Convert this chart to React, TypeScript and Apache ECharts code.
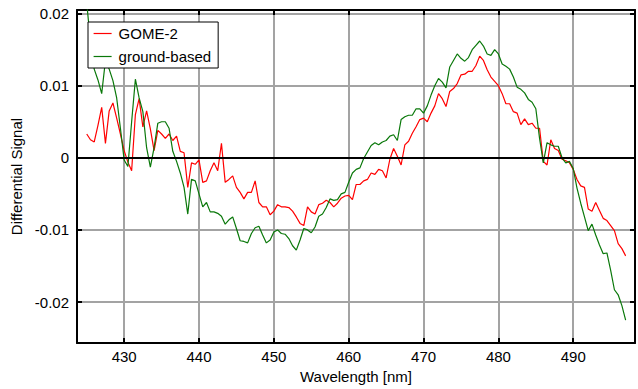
import React, { useEffect, useRef } from "react";
import * as echarts from "echarts";

const wavelengths = [425,425.5,426,426.5,427,427.5,428,428.5,429,429.5,430,430.5,431,431.5,432,432.5,433,433.5,434,434.5,435,435.5,436,436.5,437,437.5,438,438.5,439,439.5,440,440.5,441,441.5,442,442.5,443,443.5,444,444.5,445,445.5,446,446.5,447,447.5,448,448.5,449,449.5,450,450.5,451,451.5,452,452.5,453,453.5,454,454.5,455,455.5,456,456.5,457,457.5,458,458.5,459,459.5,460,460.5,461,461.5,462,462.5,463,463.5,464,464.5,465,465.5,466,466.5,467,467.5,468,468.5,469,469.5,470,470.5,471,471.5,472,472.5,473,473.5,474,474.5,475,475.5,476,476.5,477,477.5,478,478.5,479,479.5,480,480.5,481,481.5,482,482.5,483,483.5,484,484.5,485,485.5,486,486.5,487,487.5,488,488.5,489,489.5,490,490.5,491,491.5,492,492.5,493,493.5,494,494.5,495,495.5,496,496.5,497];

const gome2 = [
  0.0033,0.0025,0.0022,0.0045,0.0070,0.0020,0.0065,0.0076,0.0055,0.0033,
  0.0010,-0.0006,-0.0018,0.0060,0.0082,0.0043,0.0065,0.0040,0.0010,0.0038,
  0.0033,0.0027,0.0033,0.0024,0.0030,0.0009,0.0007,-0.0041,-0.0007,-0.0009,
  -0.0003,-0.0034,-0.0032,-0.0018,-0.0007,-0.0018,0.0020,-0.0034,-0.0030,-0.0025,
  -0.0041,-0.0048,-0.0057,-0.0048,-0.0048,-0.0032,-0.0062,-0.0068,-0.0068,-0.0079,
  -0.0074,-0.0065,-0.0068,-0.0068,-0.0069,-0.0074,-0.0082,-0.0091,-0.0094,-0.0068,
  -0.0075,-0.0078,-0.0065,-0.0063,-0.0059,-0.0062,-0.0068,-0.0063,-0.0056,-0.0053,
  -0.0052,-0.0058,-0.0037,-0.0037,-0.0032,-0.0030,-0.0021,-0.0023,-0.0016,-0.0018,
  -0.0028,-0.0002,0.0013,0.0002,-0.0010,0.0018,0.0023,0.0034,0.0043,0.0053,
  0.0055,0.0050,0.0062,0.0072,0.0089,0.0082,0.0071,0.0092,0.0096,0.0103,
  0.0115,0.0116,0.0120,0.0120,0.0128,0.0141,0.0135,0.0122,0.0112,0.0106,
  0.0100,0.0089,0.0075,0.0075,0.0064,0.0062,0.0046,0.0054,0.0046,0.0048,
  0.0041,0.0041,-0.0005,-0.0010,0.0025,0.0013,0.0010,-0.0002,-0.0004,-0.0007,
  -0.0016,-0.0030,-0.0039,-0.0041,-0.0071,-0.0074,-0.0062,-0.0073,-0.0084,-0.0087,
  -0.0094,-0.0101,-0.0119,-0.0126,-0.0136
];

const groundBased = [
  0.0215,0.0160,0.0123,0.0108,0.0089,0.0135,0.0123,0.0107,0.0083,0.0041,
  -0.0003,-0.0012,0.0050,0.0109,0.0083,0.0064,0.0014,-0.0013,0.0014,0.0048,
  0.0050,0.0050,0.0041,0.0009,-0.0005,-0.0021,-0.0041,-0.0078,-0.0030,-0.0032,
  -0.0050,-0.0068,-0.0062,-0.0075,-0.0075,-0.0077,-0.0081,-0.0092,-0.0086,-0.0082,
  -0.0098,-0.0115,-0.0116,-0.0118,-0.0105,-0.0097,-0.0095,-0.0107,-0.0118,-0.0114,
  -0.0103,-0.0100,-0.0105,-0.0106,-0.0112,-0.0122,-0.0128,-0.0114,-0.0098,-0.0100,
  -0.0104,-0.0096,-0.0081,-0.0078,-0.0069,-0.0057,-0.0059,-0.0058,-0.0050,-0.0048,
  -0.0034,-0.0021,-0.0016,-0.0014,-0.0001,0.0008,0.0017,0.0021,0.0018,0.0022,
  0.0024,0.0030,0.0032,0.0024,0.0053,0.0057,0.0059,0.0059,0.0068,0.0068,
  0.0062,0.0072,0.0087,0.0100,0.0110,0.0105,0.0097,0.0126,0.0135,0.0144,
  0.0138,0.0134,0.0139,0.0150,0.0156,0.0162,0.0155,0.0144,0.0142,0.0150,
  0.0144,0.0130,0.0127,0.0123,0.0112,0.0098,0.0095,0.0090,0.0081,0.0077,
  0.0068,0.0027,-0.0007,0.0021,0.0018,0.0016,0.0016,0.0000,-0.0007,-0.0005,
  -0.0015,-0.0042,-0.0063,-0.0082,-0.0101,-0.0092,-0.0107,-0.0121,-0.0133,-0.0132,
  -0.0156,-0.0183,-0.0190,-0.0205,-0.0225
];

const X_MIN = 423.7;
const X_MAX = 498.25;
const Y_MIN = -0.0257;
const Y_MAX = 0.0205;

const FONT = "'Liberation Sans', Arial, Helvetica, sans-serif";

export default function App() {
  const ref = useRef<HTMLDivElement>(null);
  useEffect(() => {
    if (!ref.current) return;
    const chart = echarts.init(ref.current, undefined, { renderer: "svg" });
    const black = "#000";
    const gridColor = "#a3a3a3";
    const axisCommon = {
      type: "value" as const,
      axisLine: { show: true, onZero: false, lineStyle: { color: black, width: 2 } },
      axisTick: { show: true, inside: true, length: 5, lineStyle: { color: black, width: 2 } },
    };
    chart.setOption({
      animation: false,
      backgroundColor: "#fff",
      grid: { left: 77, right: 3, top: 10, bottom: 42, show: false },
      legend: {
        orient: "vertical",
        left: 88,
        top: 22,
        padding: [4, 7, 4, 5],
        itemWidth: 18,
        itemHeight: 14,
        itemGap: 8,
        backgroundColor: "#fff",
        borderColor: black,
        borderWidth: 1,
        borderRadius: 0,
        itemStyle: { color: "rgba(0,0,0,0)", borderColor: "rgba(0,0,0,0)", borderWidth: 0 },
        lineStyle: { width: 1.2 },
        textStyle: { fontSize: 15, fontFamily: FONT, color: black, padding: [0, 0, 0, 2] },
        data: ["GOME-2", "ground-based"],
      },
      xAxis: [
        {
          ...axisCommon,
          position: "bottom",
          min: X_MIN,
          max: X_MAX,
          name: "Wavelength [nm]",
          nameLocation: "middle",
          nameGap: 24,
          nameTextStyle: { fontSize: 15, fontFamily: FONT, color: black },
          axisLabel: { fontSize: 15, fontFamily: FONT, color: black, margin: 6, showMinLabel: false, showMaxLabel: false },
          splitLine: { show: true, lineStyle: { color: gridColor, width: 2 } },
        },
        {
          ...axisCommon,
          position: "top",
          min: X_MIN,
          max: X_MAX,
          axisLabel: { show: false },
          splitLine: { show: false },
        },
      ],
      yAxis: [
        {
          ...axisCommon,
          position: "left",
          min: Y_MIN,
          max: Y_MAX,
          name: "Differential Signal",
          nameLocation: "middle",
          nameGap: 45,
          nameTextStyle: { fontSize: 15, fontFamily: FONT, color: black },
          axisLabel: { fontSize: 15, fontFamily: FONT, color: black, margin: 8, showMinLabel: false, showMaxLabel: false },
          splitLine: { show: true, lineStyle: { color: gridColor, width: 2 } },
        },
        {
          ...axisCommon,
          position: "right",
          min: Y_MIN,
          max: Y_MAX,
          axisLabel: { show: false },
          splitLine: { show: false },
        },
      ],
      series: [
        {
          name: "GOME-2",
          type: "line",
          xAxisIndex: 0,
          yAxisIndex: 0,
          data: wavelengths.map((w, i) => [w, gome2[i]]),
          symbol: "none",
          showSymbol: false,
          clip: true,
          color: "#ff0000",
          lineStyle: { color: "#ff0000", width: 1.2 },
          markLine: {
            silent: true,
            symbol: "none",
            label: { show: false },
            lineStyle: { color: black, width: 2, type: "solid" },
            data: [{ yAxis: 0 }],
          },
        },
        {
          name: "ground-based",
          type: "line",
          xAxisIndex: 0,
          yAxisIndex: 0,
          data: wavelengths.map((w, i) => [w, groundBased[i]]),
          symbol: "none",
          showSymbol: false,
          clip: true,
          color: "#0a780a",
          lineStyle: { color: "#0a780a", width: 1.2 },
        },
      ],
    });
    return () => chart.dispose();
  }, []);
  return (
    <div
      ref={ref}
      style={{ position: "fixed", left: 0, top: 0, width: 638, height: 389 }}
    />
  );
}
